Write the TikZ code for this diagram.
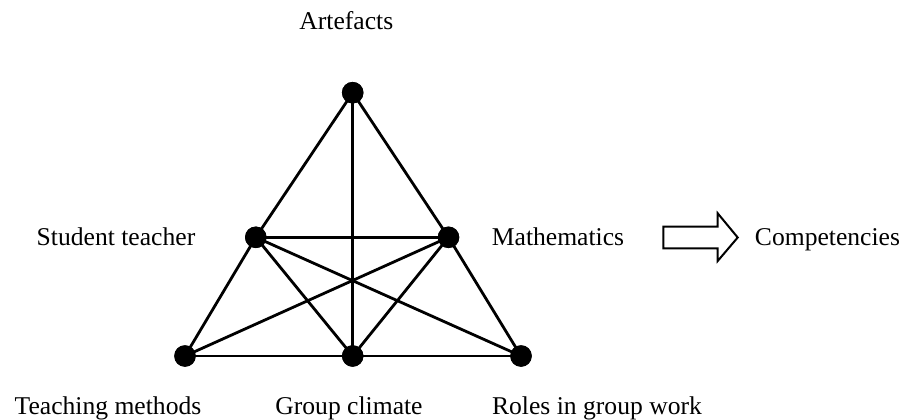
\documentclass[tikz,border=0pt]{standalone}
\usepackage{fontspec}
\setmainfont{Liberation Serif}
\begin{document}
\begin{tikzpicture}[x=1pt,y=-1pt,
  dot/.style={circle,fill=black,inner sep=0pt,minimum size=21.5pt},
  edge/.style={line width=2.8pt},
  lbl/.style={inner sep=0pt,anchor=base,font=\fontsize{25.6}{30}\selectfont}]
\useasboundingbox (0,0) rectangle (906,420);
\node[dot] (A) at (352.7,92.7) {};
\node[dot] (S) at (255.8,237.3) {};
\node[dot] (M) at (448.5,237.3) {};
\node[dot] (T) at (185,356) {};
\node[dot] (G) at (352.7,356) {};
\node[dot] (R) at (521,356) {};
\foreach \a/\b in {A/S,A/M,A/G,S/M,S/T,S/G,S/R,M/G,M/T,M/R,T/G,G/R}
  \draw[edge] (\a.center) -- (\b.center);
\foreach \n in {A,S,M,T,G,R} \node[dot] at (\n) {};
\node[lbl] (la) at (346.3,30) {Artefacts};
\node[lbl] (ls) at (116,245) {Student teacher};
\node[lbl] (lm) at (558,245) {Mathematics};
\node[lbl] (lc) at (827.5,245) {Competencies};
\node[lbl] (lt) at (108,414) {Teaching methods};
\node[lbl] (lg) at (349,414) {Group climate};
\node[lbl] (lr) at (597,414) {Roles in group work};
\draw[line width=2pt,line join=miter] (663.3,226.7) -- (717.7,226.7) -- (717.7,213.3) -- (737.7,237.5) -- (717.7,261) -- (717.7,248.3) -- (663.3,248.3) -- cycle;
\end{tikzpicture}
\end{document}
